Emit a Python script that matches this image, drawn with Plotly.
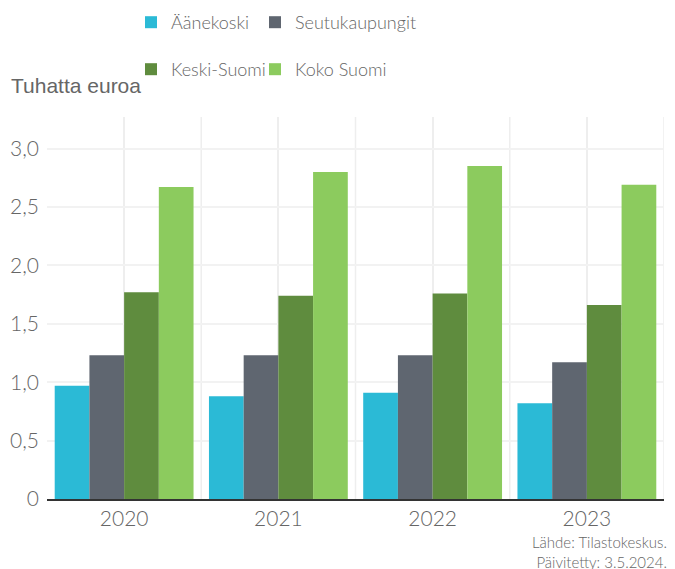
import plotly.graph_objects as go

years = ["2020", "2021", "2022", "2023"]
series_names = ["Äänekoski", "Seutukaupungit", "Keski-Suomi", "Koko Suomi"]
aanekoski = [0.97, 0.88, 0.91, 0.82]
seutukaupungit = [1.23, 1.23, 1.23, 1.17]
keski_suomi = [1.77, 1.74, 1.76, 1.66]
koko_suomi = [2.67, 2.80, 2.85, 2.69]
colors = ["#2bbad6", "#5f6670", "#5f8c3e", "#8ccb5e"]
y_ticks = [0, 0.5, 1.0, 1.5, 2.0, 2.5, 3.0]
y_tick_labels = ["0", "0,5", "1,0", "1,5", "2,0", "2,5", "3,0"]

values = [aanekoski, seutukaupungit, keski_suomi, koko_suomi]
legend_ids = ["legend", "legend2", "legend3", "legend4"]

FONT = "Lato"
GRAY = "#666666"

W, H = 667, 561
ML, MR, MT, MB = 39, 11, 109, 70
PW = W - ML - MR
PH = H - MT - MB


def px_x(fx):
    return (fx - ML) / PW


def px_y(fy):
    return 1 + (MT - fy) / PH


fig = go.Figure()
for name, vals, col, lg in zip(series_names, values, colors, legend_ids):
    fig.add_trace(go.Bar(x=years, y=vals, name=name, marker_color=col,
                         marker_line_width=0, legend=lg, showlegend=True))

shapes = []
for b in [0.5, 1.5, 2.5, 3.5]:
    shapes.append(dict(type="line", xref="x", yref="paper", x0=b, x1=b, y0=0, y1=1,
                       line=dict(color="#eeeeee", width=1.5), layer="below"))

legend_common = dict(orientation="h", xref="paper", yref="paper",
                     xanchor="left", yanchor="top",
                     font=dict(size=18, color=GRAY, weight=300),
                     bgcolor="rgba(0,0,0,0)")
leg_x = [123, 247]
leg_y = [-4, 43]

fig.update_layout(
    width=W, height=H,
    showlegend=True,
    margin=dict(l=ML, r=MR, t=MT, b=MB, autoexpand=False),
    plot_bgcolor="white", paper_bgcolor="white",
    barmode="group", bargap=0.1, bargroupgap=0,
    separators=", ",
    font=dict(family=FONT, color=GRAY, size=18, weight=300),
    shapes=shapes,
    xaxis=dict(showgrid=True, gridcolor="#eeeeee", gridwidth=1.5,
               showline=True, linecolor="#333333", linewidth=2,
               tickfont=dict(size=21, color=GRAY, weight=300), ticks="",
               range=[-0.5, 3.5], automargin=False),
    yaxis=dict(range=[0, 3.27], tickvals=y_ticks, ticktext=y_tick_labels,
               showgrid=True, gridcolor="#f2f2f2", gridwidth=1.5,
               zeroline=False, tickfont=dict(size=21, color=GRAY, weight=300), ticks="",
               ticklabelstandoff=7, automargin=False),
    legend=dict(legend_common, x=px_x(leg_x[0]), y=px_y(leg_y[0])),
    legend2=dict(legend_common, x=px_x(leg_x[1]), y=px_y(leg_y[0])),
    legend3=dict(legend_common, x=px_x(leg_x[0]), y=px_y(leg_y[1])),
    legend4=dict(legend_common, x=px_x(leg_x[1]), y=px_y(leg_y[1])),
    annotations=[
        dict(text="Tuhatta euroa", xref="paper", yref="paper", x=0, y=1,
             xanchor="left", yanchor="middle", xshift=-38, yshift=32, showarrow=False,
             font=dict(family="Liberation Sans, Arial", size=21, color=GRAY, weight=400)),
        dict(text="Lähde: Tilastokeskus.<br>Päivitetty: 3.5.2024.", xref="paper", yref="paper",
             x=1, y=0, xanchor="right", yanchor="top", align="right", xshift=5, yshift=-32,
             showarrow=False, font=dict(size=15, color=GRAY, weight=300)),
    ],
)

fig.write_html("out.html")
